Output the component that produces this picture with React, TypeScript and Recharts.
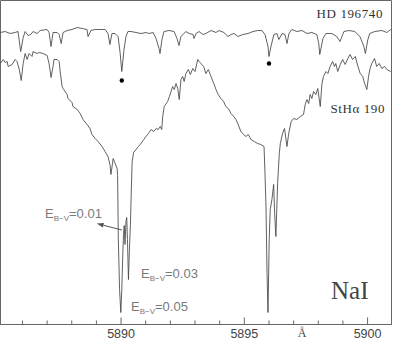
import { LineChart, Line, XAxis, YAxis, ReferenceDot, ReferenceLine, ReferenceArea, Customized } from 'recharts';

// HD 196740 (comparison star), wavelength in Å and relative flux
const HD_WAVE = [
  5885.10, 5885.30, 5885.50, 5885.70, 5885.82, 5885.93, 5886.03, 5886.11, 5886.23, 5886.34,
  5886.43, 5886.59, 5886.72, 5887.00, 5887.08, 5887.16, 5887.24, 5887.41, 5887.49, 5887.57,
  5887.65, 5887.81, 5888.01, 5888.22, 5888.42, 5888.62, 5888.66, 5888.78, 5888.95, 5889.15,
  5889.35, 5889.47, 5889.55, 5889.63, 5889.76, 5889.88, 5889.96, 5890.03, 5890.12, 5890.20,
  5890.28, 5890.40, 5890.61, 5890.81, 5891.01, 5891.13, 5891.30, 5891.42, 5891.54, 5891.58,
  5891.66, 5891.74, 5891.94, 5892.15, 5892.27, 5892.35, 5892.43, 5892.55, 5892.63, 5892.76,
  5892.92, 5892.96, 5893.04, 5893.16, 5893.32, 5893.44, 5893.65, 5893.85, 5893.97, 5894.17,
  5894.34, 5894.46, 5894.58, 5894.74, 5894.94, 5895.15, 5895.35, 5895.55, 5895.71, 5895.84,
  5895.96, 5896.00, 5896.08, 5896.20, 5896.32, 5896.40, 5896.53, 5896.65, 5896.73, 5896.81,
  5896.93, 5897.13, 5897.34, 5897.54, 5897.74, 5897.94, 5898.02, 5898.06, 5898.19, 5898.31,
  5898.55, 5898.75, 5898.88, 5899.04, 5899.24, 5899.48, 5899.69, 5899.85, 5899.91, 5900.01,
  5900.09, 5900.29, 5900.58, 5900.78, 5900.94,
];
const HD_FLUX = [
  2.92, 2.93, 2.91, 2.92, 2.93, 2.73, 2.87, 2.93, 2.89, 2.90,
  2.93, 2.91, 2.94, 2.95, 2.92, 2.78, 2.92, 2.92, 2.90, 2.81,
  2.92, 2.94, 2.95, 2.97, 2.96, 2.95, 2.88, 2.94, 2.95, 2.95,
  2.95, 2.91, 2.80, 2.91, 2.91, 2.88, 2.72, 2.53, 2.75, 2.88,
  2.93, 2.93, 2.92, 2.91, 2.92, 2.91, 2.92, 2.86, 2.76, 2.71,
  2.85, 2.93, 2.94, 2.93, 2.86, 2.79, 2.88, 2.91, 2.93, 2.91,
  2.90, 2.86, 2.91, 2.93, 2.90, 2.91, 2.94, 2.92, 2.94, 2.92,
  2.88, 2.90, 2.91, 2.88, 2.90, 2.91, 2.93, 2.94, 2.94, 2.90,
  2.78, 2.68, 2.78, 2.90, 2.91, 2.85, 2.91, 2.90, 2.81, 2.91,
  2.95, 2.93, 2.94, 2.91, 2.92, 2.90, 2.81, 2.70, 2.86, 2.91,
  2.91, 2.88, 2.83, 2.93, 2.94, 2.93, 2.88, 2.78, 2.71, 2.85,
  2.91, 2.93, 2.94, 2.92, 2.95,
];

// StHα 190
const ST_WAVE = [
  5885.10, 5885.22, 5885.30, 5885.38, 5885.42, 5885.58, 5885.70, 5885.78, 5885.87, 5885.95,
  5886.03, 5886.11, 5886.19, 5886.27, 5886.39, 5886.43, 5886.59, 5886.68, 5886.84, 5887.00,
  5887.08, 5887.16, 5887.24, 5887.28, 5887.41, 5887.49, 5887.53, 5887.61, 5887.65, 5887.81,
  5887.85, 5888.01, 5888.05, 5888.22, 5888.34, 5888.46, 5888.62, 5888.74, 5888.82, 5888.95,
  5889.07, 5889.23, 5889.35, 5889.47, 5889.55, 5889.59, 5889.68, 5889.76, 5889.84, 5889.86,
  5889.89, 5889.94, 5889.99, 5890.03, 5890.07, 5890.10, 5890.13, 5890.16, 5890.20, 5890.23,
  5890.26, 5890.30, 5890.34, 5890.38, 5890.40, 5890.45, 5890.51, 5890.61, 5890.70, 5890.81,
  5890.92, 5891.01, 5891.11, 5891.22, 5891.33, 5891.42, 5891.51, 5891.59, 5891.65, 5891.69,
  5891.75, 5891.89, 5891.96, 5892.03, 5892.09, 5892.16, 5892.23, 5892.30, 5892.36, 5892.43,
  5892.50, 5892.56, 5892.63, 5892.73, 5892.81, 5892.91, 5893.00, 5893.11, 5893.17, 5893.24,
  5893.35, 5893.44, 5893.54, 5893.65, 5893.76, 5893.85, 5893.94, 5894.05, 5894.16, 5894.25,
  5894.35, 5894.46, 5894.57, 5894.66, 5894.75, 5894.86, 5894.97, 5895.07, 5895.16, 5895.27,
  5895.40, 5895.54, 5895.67, 5895.80, 5895.84, 5895.88, 5895.92, 5895.96, 5896.01, 5896.05,
  5896.12, 5896.19, 5896.23, 5896.28, 5896.35, 5896.42, 5896.46, 5896.55, 5896.63, 5896.73,
  5896.80, 5896.90, 5897.00, 5897.13, 5897.27, 5897.40, 5897.47, 5897.54, 5897.61, 5897.67,
  5897.74, 5897.81, 5897.90, 5897.98, 5898.08, 5898.15, 5898.21, 5898.31, 5898.39, 5898.48,
  5898.58, 5898.66, 5898.71, 5898.79, 5898.89, 5898.99, 5899.09, 5899.20, 5899.29, 5899.39,
  5899.50, 5899.61, 5899.70, 5899.80, 5899.88, 5899.97, 5900.04, 5900.10, 5900.17, 5900.28,
  5900.37, 5900.47, 5900.58, 5900.69, 5900.78, 5900.94,
];
const ST_FLUX = [
  2.61, 2.65, 2.62, 2.63, 2.58, 2.60, 2.65, 2.63, 2.55, 2.44,
  2.61, 2.71, 2.65, 2.71, 2.68, 2.73, 2.71, 2.72, 2.71, 2.69,
  2.61, 2.47, 2.58, 2.65, 2.65, 2.63, 2.53, 2.38, 2.36, 2.30,
  2.26, 2.22, 2.18, 2.15, 2.11, 2.05, 2.00, 1.96, 1.90, 1.86,
  1.83, 1.78, 1.73, 1.68, 1.60, 1.50, 1.66, 1.61, 1.56, 1.49,
  0.85, 0.35, 0.12, 0.35, 0.70, 0.90, 0.99, 0.80, 1.03, 1.07,
  0.85, 0.45, 0.75, 1.00, 1.20, 1.63, 1.72, 1.75, 1.78, 1.81,
  1.85, 1.88, 1.91, 1.95, 1.93, 1.96, 1.95, 1.98, 1.95, 2.08,
  2.18, 2.23, 2.28, 2.33, 2.38, 2.35, 2.41, 2.36, 2.25, 2.45,
  2.48, 2.43, 2.51, 2.55, 2.50, 2.56, 2.53, 2.65, 2.63, 2.61,
  2.58, 2.51, 2.55, 2.48, 2.41, 2.35, 2.30, 2.26, 2.23, 2.18,
  2.16, 2.11, 2.08, 2.05, 2.00, 1.93, 1.90, 1.88, 1.90, 1.85,
  1.83, 1.81, 1.80, 1.78, 1.50, 1.18, 0.52, 0.12, 0.85, 1.15,
  1.25, 1.40, 1.11, 0.88, 1.41, 1.71, 1.81, 1.91, 1.96, 1.78,
  1.91, 2.03, 2.06, 2.05, 2.08, 2.10, 2.20, 2.25, 2.21, 2.30,
  2.26, 2.33, 2.30, 2.36, 2.18, 2.41, 2.48, 2.53, 2.51, 2.58,
  2.63, 2.58, 2.61, 2.53, 2.60, 2.65, 2.60, 2.66, 2.70, 2.65,
  2.68, 2.58, 2.51, 2.48, 2.41, 2.35, 2.48, 2.56, 2.61, 2.66,
  2.58, 2.61, 2.56, 2.58, 2.55, 2.53,
];

const TICKS = [5886, 5887, 5888, 5889, 5890, 5891, 5892, 5893, 5894, 5895, 5896, 5897, 5898, 5899, 5900];
const LABELED = [5890, 5895, 5900];
const X_DOMAIN = [5885.11, 5900.97];
const Y_DOMAIN = [0, 3.24];

// interstellar component markers on HD 196740
const DOTS = [
  { w: 5890.03, f: 2.44 },
  { w: 5896.0, f: 2.61 },
];

const hdData = HD_WAVE.map((w, i) => ({ w, f: HD_FLUX[i] }));
const stData = ST_WAVE.map((w, i) => ({ w, f: ST_FLUX[i] }));

const FRAME = '#666';
const INK = '#444';
const SANS = '"Liberation Sans", Arial, sans-serif';
const SERIF = '"Liberation Serif", "Times New Roman", serif';

const WaveTick = ({ x, y, payload }: any) => {
  const major = LABELED.includes(payload.value);
  return (
    <g>
      <line x1={x} x2={x} y1={y} y2={y - (major ? 7 : 4)} stroke={FRAME} strokeWidth={1} />
      {major && (
        <text x={x} y={y + 13} textAnchor="middle" fontFamily={SANS} fontSize={12.5} fill="#444">
          {payload.value}
        </text>
      )}
    </g>
  );
};

const Arrow = (props: any) => {
  const { x1, y1, x2, y2 } = props;
  const dx = x2 - x1;
  const dy = y2 - y1;
  const len = Math.sqrt(dx * dx + dy * dy) || 1;
  const ux = dx / len;
  const uy = dy / len;
  const bx = x2 - ux * 7;
  const by = y2 - uy * 7;
  return (
    <g>
      <line x1={x1} y1={y1} x2={bx} y2={by} stroke="#555" strokeWidth={1} />
      <polygon
        points={`${x2},${y2} ${bx - uy * 2.2},${by + ux * 2.2} ${bx + uy * 2.2},${by - ux * 2.2}`}
        fill="#555"
      />
    </g>
  );
};

const Ebv = ({ x, y, value }: { x: number; y: number; value: string }) => (
  <text x={x} y={y} fontFamily={SANS} fontSize={13} fill="#7a7a7a">
    E
    <tspan fontSize={8} dy={3}>
      B−V
    </tspan>
    <tspan dy={-3}>={value}</tspan>
  </text>
);

const Labels = () => (
  <g>
    <text x={383} y={18} textAnchor="end" fontFamily={SERIF} fontSize={13} fill="#333" letterSpacing={0.6}>
      HD 196740
    </text>
    <text x={385} y={113} textAnchor="end" fontFamily={SERIF} fontSize={13} fill="#333" letterSpacing={0.6}>
      StHα 190
    </text>
    <text x={331} y={299} fontFamily={SERIF} fontSize={25} fill="#444">
      NaI
    </text>
    <text x={302} y={337} textAnchor="middle" fontFamily={SERIF} fontSize={12} fill="#444">
      Å
    </text>
    <Ebv x={45} y={218} value="0.01" />
    <Ebv x={141} y={278} value="0.03" />
    <Ebv x={131} y={311} value="0.05" />
  </g>
);

export default function App() {
  return (
    <div style={{ position: 'absolute', left: 0, top: 0, background: '#fff' }}>
      <LineChart width={393} height={339} margin={{ top: 0.5, right: 1.5, bottom: 0, left: 0.5 }}>
        <XAxis
          dataKey="w"
          type="number"
          domain={X_DOMAIN}
          ticks={TICKS}
          interval={0}
          allowDataOverflow
          height={14.5}
          tickSize={0}
          tickMargin={0}
          tickLine={false}
          tick={<WaveTick />}
          axisLine={{ stroke: FRAME }}
        />
        <YAxis type="number" domain={Y_DOMAIN} hide allowDataOverflow />
        <ReferenceArea
          x1={X_DOMAIN[0]}
          x2={X_DOMAIN[1]}
          y1={Y_DOMAIN[0]}
          y2={Y_DOMAIN[1]}
          fill="none"
          fillOpacity={0}
          stroke={FRAME}
          strokeWidth={1}
          ifOverflow="visible"
        />
        <Line data={hdData} dataKey="f" type="linear" stroke={INK} strokeWidth={0.85} dot={false} isAnimationActive={false} />
        <Line data={stData} dataKey="f" type="linear" stroke={INK} strokeWidth={0.85} dot={false} isAnimationActive={false} />
        {DOTS.map((d) => (
          <ReferenceDot key={d.w} x={d.w} y={d.f} r={2.2} fill="#000" stroke="none" />
        ))}
        <ReferenceLine
          segment={[
            { x: 5890.03, y: 0.945 },
            { x: 5889.01, y: 1.01 },
          ]}
          shape={<Arrow />}
        />
        <Customized component={<Labels />} />
      </LineChart>
    </div>
  );
}
